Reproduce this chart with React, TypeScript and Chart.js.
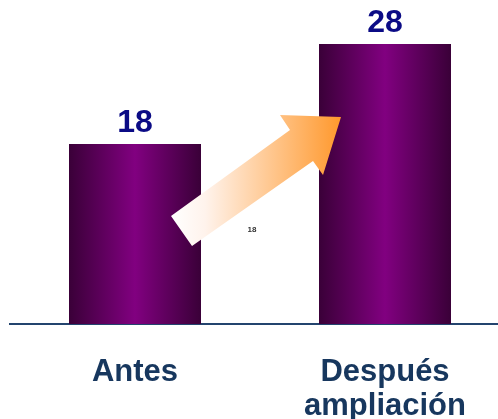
import React, { useEffect, useRef } from "react";
import { Chart, registerables } from "chart.js";

Chart.register(...registerables);

const categories: string[][] = [["Antes"], ["Después", "ampliación"]];
const values: number[] = [18, 28];
const noteLabel = "18";
// arrow outline in (category position, value) units
const arrowCat: number[] = [0.144, 0.228, 0.712, 0.752, 0.824, 0.58, 0.62];
const arrowVal: number[] = [10.8, 7.8, 16.3, 14.9, 20.7, 20.9, 19.4];
const notePos = { cat: 0.468, val: 9.4 };

const BAR_PCT = 0.528;
const FONT = "'Liberation Sans', Arial, sans-serif";

const overlay = {
  id: "overlay",
  afterDatasetsDraw(chart: any) {
    const { ctx } = chart;
    const xs = chart.scales.x;
    const ys = chart.scales.y;
    const x0 = xs.getPixelForValue(0);
    const x1 = xs.getPixelForValue(1);
    const px = (c: number) => x0 + c * (x1 - x0);
    ctx.save();
    // arrow
    const pts = arrowCat.map((c, i) => [px(c), ys.getPixelForValue(arrowVal[i])]);
    const xsPts = pts.map((p) => p[0]);
    const g = ctx.createLinearGradient(Math.min(...xsPts), 0, Math.max(...xsPts), 0);
    g.addColorStop(0, "#ffffff");
    g.addColorStop(0.2, "#fff3ec");
    g.addColorStop(1, "#ff982c");
    ctx.beginPath();
    pts.forEach((p, i) => (i === 0 ? ctx.moveTo(p[0], p[1]) : ctx.lineTo(p[0], p[1])));
    ctx.closePath();
    ctx.fillStyle = g;
    ctx.fill();
    // value labels
    ctx.fillStyle = "#0b0b85";
    ctx.font = `bold 32px ${FONT}`;
    ctx.textAlign = "center";
    ctx.textBaseline = "middle";
    values.forEach((v, i) => {
      ctx.fillText(String(v), xs.getPixelForValue(i), ys.getPixelForValue(v) - 21);
    });
    // small note
    ctx.fillStyle = "#333333";
    ctx.font = `bold 8px ${FONT}`;
    ctx.fillText(noteLabel, px(notePos.cat), ys.getPixelForValue(notePos.val));
    ctx.restore();
  },
};

export default function App() {
  const ref = useRef<HTMLCanvasElement | null>(null);
  useEffect(() => {
    if (!ref.current) return;
    const chart = new Chart(ref.current, {
      type: "bar",
      data: {
        labels: categories as any,
        datasets: [
          {
            data: values,
            backgroundColor: (c: any) => {
              const ch = c.chart;
              const xs = ch.scales?.x;
              if (!xs || !ch.chartArea) return "#800080";
              const cx = xs.getPixelForValue(c.dataIndex);
              const half = (xs.width / categories.length) * BAR_PCT / 2;
              const g = ch.ctx.createLinearGradient(cx - half, 0, cx + half, 0);
              g.addColorStop(0, "#3a0038");
              g.addColorStop(0.5, "#810080");
              g.addColorStop(1, "#3a0038");
              return g;
            },
            borderWidth: 0,
            barPercentage: BAR_PCT,
            categoryPercentage: 1,
          },
        ],
      },
      options: {
        responsive: false,
        animation: false,
        events: [],
        layout: { padding: { left: 10, right: 10, top: 0, bottom: 0 } },
        plugins: { legend: { display: false }, tooltip: { enabled: false } },
        scales: {
          y: { display: false, min: 0, max: 32.4 },
          x: {
            grid: { display: false, drawTicks: false },
            border: { display: true, color: "#23446e", width: 2 },
            ticks: {
              color: "#17375e",
              font: { family: FONT, size: 31, weight: "bold", lineHeight: 1.1 },
              padding: 31,
              maxRotation: 0,
              autoSkip: false,
            },
            afterFit: (s: any) => {
              s.height = 95;
            },
          },
        },
      },
      plugins: [overlay],
    });
    return () => chart.destroy();
  }, []);
  return (
    <div style={{ position: "fixed", left: 0, top: 0, width: 498, height: 419, overflow: "hidden", background: "#fff" }}>
      <canvas ref={ref} width={520} height={419} style={{ display: "block" }} />
    </div>
  );
}
